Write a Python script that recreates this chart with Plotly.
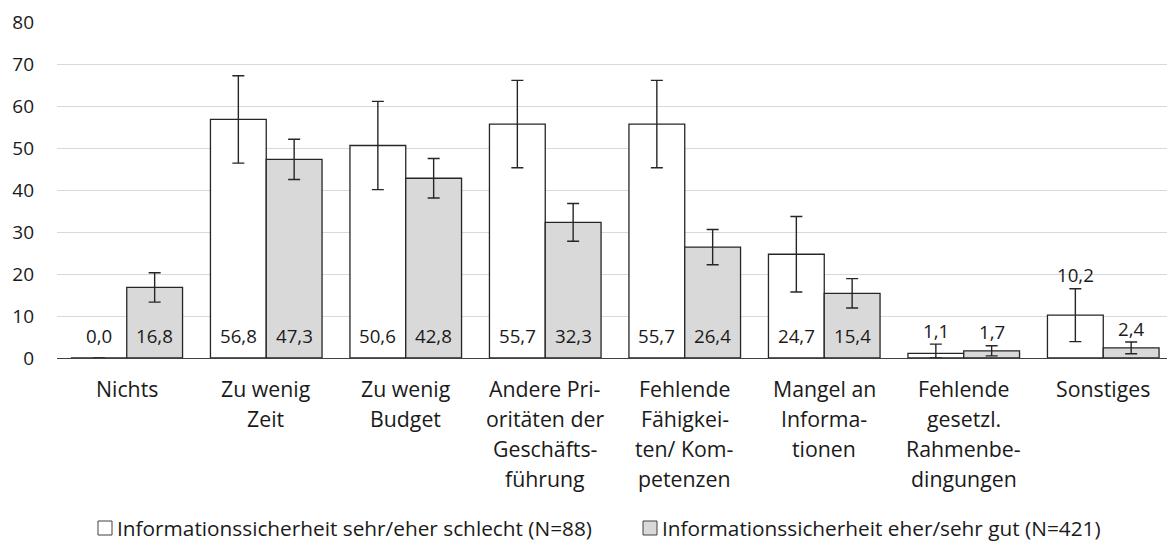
import plotly.graph_objects as go

# ---- data ----
categories = ["Nichts", "Zu wenig Zeit", "Zu wenig Budget", "Andere Prioritäten der Geschäftsführung",
              "Fehlende Fähigkeiten/ Kompetenzen", "Mangel an Informationen",
              "Fehlende gesetzl. Rahmenbedingungen", "Sonstiges"]
category_lines = [
    ["Nichts"],
    ["Zu wenig", "Zeit"],
    ["Zu wenig", "Budget"],
    ["Andere Pri-", "oritäten der", "Geschäfts-", "führung"],
    ["Fehlende", "Fähigkei-", "ten/ Kom-", "petenzen"],
    ["Mangel an", "Informa-", "tionen"],
    ["Fehlende", "gesetzl.", "Rahmenbe-", "dingungen"],
    ["Sonstiges"],
]
series_names = ["Informationssicherheit sehr/eher schlecht (N=88)",
                "Informationssicherheit eher/sehr gut (N=421)"]
schlecht = [0.0, 56.8, 50.6, 55.7, 55.7, 24.7, 1.1, 10.2]
schlecht_err_plus = [0.0, 10.4, 10.5, 10.4, 10.4, 9.0, 2.2, 6.3]
schlecht_err_minus = [0.0, 10.4, 10.5, 10.4, 10.4, 9.0, 1.1, 6.3]
gut = [16.8, 47.3, 42.8, 32.3, 26.4, 15.4, 1.7, 2.4]
gut_err_plus = [3.5, 4.8, 4.7, 4.5, 4.2, 3.5, 1.2, 1.4]
gut_err_minus = [3.5, 4.8, 4.7, 4.5, 4.2, 3.5, 1.2, 1.4]
y_ticks = [0, 10, 20, 30, 40, 50, 60, 70, 80]

FONT = "Open Sans"
FS_LABEL, FS_TICK, FS_LEG, FS_CAT = 18.7, 19, 20.8, 21.3
TXT = "#1a1a1a"
W, H = 1167, 542
ML, MT, MB = 57, 22, 184
plot_h = H - MT - MB
plot_w = W - ML
px_per_unit = plot_h / 80.0

fig = go.Figure()
fills = ["#ffffff", "#d9d9d9"]
vals = [schlecht, gut]
eplus = [schlecht_err_plus, gut_err_plus]
eminus = [schlecht_err_minus, gut_err_minus]
for k in range(2):
    fig.add_trace(go.Bar(
        x=categories, y=vals[k], name=series_names[k], showlegend=False,
        marker=dict(color=fills[k], line=dict(color="#262626", width=1.3)),
        error_y=dict(type="data", symmetric=False, array=eplus[k], arrayminus=eminus[k],
                     color="#262626", thickness=1.4, width=6),
        hoverinfo="skip",
    ))

annotations = []
offsets = [-0.2, 0.2]
for k in range(2):
    for i, v in enumerate(vals[k]):
        inside_px = 22.7
        if v >= 15:
            y, ys = 0, inside_px
        else:
            top = v + eplus[k][i]
            if top * px_per_unit + 14 < inside_px:
                y, ys = 0, inside_px
            else:
                y, ys = top, 14
        annotations.append(dict(
            x=i + offsets[k], y=y, xref="x", yref="y", yshift=ys,
            text=f"{v:.1f}".replace(".", ","), showarrow=False,
            font=dict(family=FONT, size=FS_LABEL, color=TXT), yanchor="middle", xanchor="center"))

for i, lines in enumerate(category_lines):
    for j, line in enumerate(lines):
        annotations.append(dict(
            x=i, y=0, xref="x", yref="y", yshift=-(30 + 30 * j),
            text=line, showarrow=False, font=dict(family=FONT, size=FS_CAT, color=TXT),
            yanchor="middle", xanchor="center"))

# manual legend (Excel-like square + text)
def px_x(px):
    return (px - ML) / plot_w
def px_y(py):
    return (H - MB - py) / plot_h

shapes = []
leg_sq = [98, 643]
leg_y = 528
for k in range(2):
    shapes.append(dict(type="rect", xref="paper", yref="paper",
                       x0=px_x(leg_sq[k]), x1=px_x(leg_sq[k] + 14),
                       y0=px_y(leg_y + 7), y1=px_y(leg_y - 7),
                       fillcolor=fills[k], line=dict(color="#404040", width=1)))
    annotations.append(dict(x=px_x(leg_sq[k] + 18), y=px_y(leg_y), xref="paper", yref="paper",
                            text=series_names[k], showarrow=False, xanchor="left", yanchor="middle",
                            borderpad=0, font=dict(family=FONT, size=FS_LEG, color=TXT)))

cat_px = 139.5
x_span = plot_w / cat_px

fig.update_layout(
    width=W, height=H,
    margin=dict(l=ML, r=0, t=MT, b=MB, pad=0),
    paper_bgcolor="white", plot_bgcolor="white",
    barmode="group", bargap=0.2, bargroupgap=0.0,
    font=dict(family=FONT, size=FS_TICK, color=TXT),
    showlegend=False,
    annotations=annotations,
    shapes=shapes,
    xaxis=dict(type="category", range=[-0.5, -0.5 + x_span], showticklabels=False, ticks="",
               showgrid=False, showline=True, linecolor="#404040", linewidth=1.3, zeroline=False,
               fixedrange=True),
    yaxis=dict(range=[0, 80], tickvals=y_ticks, ticktext=[str(t) for t in y_ticks], showgrid=True,
               gridcolor="#d9d9d9", gridwidth=1.3, zeroline=False, showline=False, ticks="",
               ticklabelstandoff=22, tickfont=dict(family=FONT, size=FS_TICK, color=TXT), fixedrange=True),
)

fig.write_html("out.html", config={"displayModeBar": False},
               post_script="document.body.style.margin='0';document.body.style.padding='0';")
